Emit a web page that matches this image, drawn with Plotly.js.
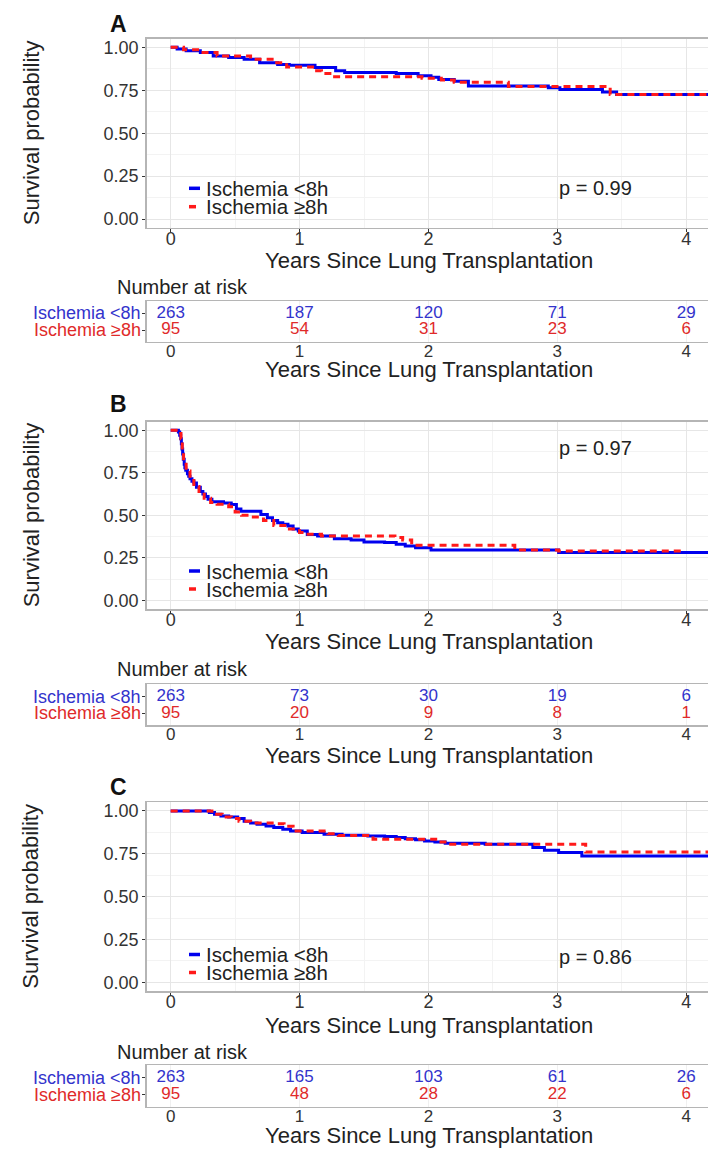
<!DOCTYPE html>
<html><head><meta charset="utf-8">
<script src="https://cdn.plot.ly/plotly-3.0.1.min.js"></script>
<style>html,body{margin:0;padding:0;background:#fff;overflow:hidden}#chart{width:708px;height:1151px}</style>
</head><body><div id="chart"></div>
<script>
// ---------------- DATA ----------------
const groups = ["Ischemia <8h", "Ischemia ≥8h"];
const panelLetters = ["A", "B", "C"];
const pValues = ["p = 0.99", "p = 0.97", "p = 0.86"];
const yTickVals = [0, 0.25, 0.5, 0.75, 1];
const yTickText = ["0.00", "0.25", "0.50", "0.75", "1.00"];
const xTickVals = [0, 1, 2, 3, 4];
const riskTimes = [0, 1, 2, 3, 4];

// Panel A
const timeA_lt = [0, 0.05, 0.12, 0.23, 0.33, 0.45, 0.57, 0.69, 0.83, 0.92, 1.12, 1.28, 1.35, 1.75, 1.92, 2.02, 2.08, 2.2, 2.31, 2.93, 3.02, 3.35, 3.46, 4.3];
const survA_lt = [1.0, 0.99, 0.98, 0.97, 0.95, 0.94, 0.93, 0.91, 0.90, 0.895, 0.882, 0.863, 0.853, 0.847, 0.835, 0.825, 0.812, 0.803, 0.774, 0.765, 0.755, 0.74, 0.725, 0.725];
const timeA_ge = [0, 0.1, 0.23, 0.36, 0.62, 0.8, 0.9, 1.12, 1.17, 1.25, 1.95, 2.1, 2.2, 2.62, 3.41, 4.3];
const survA_ge = [1.0, 0.985, 0.97, 0.95, 0.93, 0.91, 0.886, 0.863, 0.847, 0.828, 0.82, 0.81, 0.797, 0.772, 0.725, 0.725];
const riskA_lt = [263, 187, 120, 71, 29];
const riskA_ge = [95, 54, 31, 23, 6];

// Panel B
const timeB_lt = [0, 0.06, 0.07, 0.078, 0.083, 0.088, 0.093, 0.098, 0.105, 0.11, 0.117, 0.13, 0.14, 0.15, 0.165, 0.18, 0.2, 0.23, 0.25, 0.27, 0.29, 0.32, 0.41, 0.47, 0.51, 0.545, 0.70, 0.75, 0.79, 0.83, 0.87, 0.91, 0.95, 0.99, 1.06, 1.14, 1.27, 1.40, 1.50, 1.66, 1.75, 1.82, 1.90, 2.02, 3.01, 4.3];
const survB_lt = [1.0, 0.99, 0.97, 0.95, 0.92, 0.89, 0.86, 0.83, 0.80, 0.78, 0.765, 0.745, 0.73, 0.715, 0.70, 0.69, 0.665, 0.64, 0.625, 0.61, 0.595, 0.58, 0.573, 0.563, 0.538, 0.524, 0.505, 0.486, 0.47, 0.457, 0.447, 0.437, 0.42, 0.408, 0.388, 0.379, 0.363, 0.355, 0.343, 0.34, 0.33, 0.32, 0.31, 0.297, 0.282, 0.282];
const timeB_ge = [0, 0.06, 0.08, 0.09, 0.1, 0.12, 0.15, 0.18, 0.22, 0.26, 0.31, 0.36, 0.45, 0.5, 0.55, 0.62, 0.72, 0.8, 0.9, 1.0, 1.04, 1.17, 1.74, 1.80, 1.87, 2.67, 3.01, 3.97];
const survB_ge = [1.0, 0.98, 0.95, 0.88, 0.82, 0.76, 0.72, 0.67, 0.64, 0.60, 0.575, 0.565, 0.55, 0.52, 0.50, 0.49, 0.47, 0.44, 0.42, 0.40, 0.389, 0.379, 0.37, 0.355, 0.324, 0.297, 0.29, 0.29];
const riskB_lt = [263, 73, 30, 19, 6];
const riskB_ge = [95, 20, 9, 8, 1];

// Panel C
const timeC_lt = [0, 0.30, 0.34, 0.39, 0.45, 0.52, 0.57, 0.62, 0.67, 0.74, 0.80, 0.87, 0.93, 1.02, 1.19, 1.33, 1.53, 1.66, 1.75, 1.82, 1.9, 1.97, 2.05, 2.13, 2.44, 2.81, 2.90, 3.01, 3.19, 4.3];
const survC_lt = [1.0, 0.99, 0.98, 0.97, 0.965, 0.955, 0.94, 0.93, 0.922, 0.912, 0.903, 0.893, 0.883, 0.874, 0.864, 0.858, 0.854, 0.85, 0.845, 0.838, 0.832, 0.825, 0.818, 0.811, 0.805, 0.786, 0.77, 0.757, 0.737, 0.737];
const timeC_ge = [0, 0.32, 0.40, 0.47, 0.53, 0.62, 0.80, 0.88, 0.95, 1.22, 1.30, 1.57, 2.08, 2.15, 3.22, 4.3];
const survC_ge = [1.0, 0.98, 0.965, 0.955, 0.94, 0.93, 0.925, 0.91, 0.883, 0.866, 0.857, 0.834, 0.818, 0.805, 0.76, 0.76];
const riskC_lt = [263, 165, 103, 61, 26];
const riskC_ge = [95, 48, 28, 22, 6];

// ---------------- STYLE / GEOMETRY ----------------
const W = 708, H = 1151;
const FONT = "Liberation Sans, Arial, sans-serif";
const BLUE = "#0000ee", RED = "#ff1a1a";
const BLUE_TXT = "#3333cc", RED_TXT = "#e02a2a";
const plotLeft = 146.7;
const xRange = [-0.186, 4.169];
const geo = [
  {km: [38.7, 227.7], tab: [301, 341.7], letter: 24.5, kmTitle: 260, nar: 286.7, tabTitle: 369, leg: [188.3, 206.7], p: 188},
  {km: [421.7, 609], tab: [684, 725], letter: 404.5, kmTitle: 641.7, nar: 669, tabTitle: 755.5, leg: [571, 589], p: 448.3},
  {km: [802.3, 991], tab: [1065, 1106.7], letter: 787, kmTitle: 1025, nar: 1051.7, tabTitle: 1135.5, leg: [954.5, 972.5], p: 956.7}
];
const curves = [
  [[timeA_lt, survA_lt], [timeA_ge, survA_ge]],
  [[timeB_lt, survB_lt], [timeB_ge, survB_ge]],
  [[timeC_lt, survC_lt], [timeC_ge, survC_ge]]
];
const risks = [[riskA_lt, riskA_ge], [riskB_lt, riskB_ge], [riskC_lt, riskC_ge]];

const px = v => v / W;
const py = v => 1 - v / H;

const traces = [];
const layout = {
  width: W, height: H, margin: {l: 0, r: 0, t: 0, b: 0},
  paper_bgcolor: "#fff", plot_bgcolor: "#fff", showlegend: false,
  font: {family: FONT, color: "#222"},
  annotations: [], shapes: []
};

function sfx(n) { return n === 1 ? "" : String(n); }

geo.forEach((g, i) => {
  const kmN = 2 * i + 1, tabN = 2 * i + 2;
  const kmX = "x" + sfx(kmN), kmY = "y" + sfx(kmN);
  const tbX = "x" + sfx(tabN), tbY = "y" + sfx(tabN);

  layout["xaxis" + sfx(kmN)] = {
    domain: [px(plotLeft), 1], anchor: kmY, range: xRange,
    tickvals: xTickVals, ticks: "outside", ticklen: 3, tickcolor: "#333",
    tickfont: {size: 18, color: "#333"}, ticklabelstandoff: -9,
    showline: true, mirror: true, linecolor: "#b5b5b5", linewidth: 1.5,
    showgrid: true, gridcolor: "#e6e6e6", gridwidth: 1,
    minor: {dtick: 0.5, tick0: 0, showgrid: true, gridcolor: "#f3f3f3", gridwidth: 1},
    zeroline: false, fixedrange: true
  };
  layout["yaxis" + sfx(kmN)] = {
    domain: [py(g.km[1]), py(g.km[0])], anchor: kmX, range: [-0.05, 1.05],
    tickvals: yTickVals, ticktext: yTickText, ticks: "outside", ticklen: 3, tickcolor: "#333",
    tickfont: {size: 18, color: "#333"},
    showline: true, mirror: false, linecolor: "#b5b5b5", linewidth: 1.5,
    showgrid: true, gridcolor: "#e6e6e6", gridwidth: 1,
    minor: {dtick: 0.125, tick0: 0, showgrid: true, gridcolor: "#f3f3f3", gridwidth: 1},
    zeroline: false, fixedrange: true
  };
  layout["xaxis" + sfx(tabN)] = {
    domain: [px(plotLeft), 1], anchor: tbY, range: xRange,
    tickvals: xTickVals, ticks: "", tickfont: {size: 17, color: "#333"}, ticklabelstandoff: -7,
    showline: true, mirror: true, linecolor: "#b5b5b5", linewidth: 1.5,
    showgrid: true, gridcolor: "#f0f0f0", zeroline: false, fixedrange: true
  };
  layout["yaxis" + sfx(tabN)] = {
    domain: [py(g.tab[1]), py(g.tab[0])], anchor: tbX, range: [0.3, 2.75],
    tickvals: [1, 2], showticklabels: false, ticks: "outside", ticklen: 3, tickcolor: "#333",
    showline: true, linecolor: "#b5b5b5", linewidth: 1.5,
    showgrid: false, zeroline: false, fixedrange: true
  };

  const cols = [BLUE, RED];
  const dashes = ["solid", "7px,5px"];
  curves[i].forEach((c, k) => {
    traces.push({
      x: c[0], y: c[1], xaxis: kmX, yaxis: kmY, type: "scatter", mode: "lines",
      line: {shape: "hv", color: cols[k], width: 3, dash: dashes[k]},
      name: groups[k], hoverinfo: "skip", cliponaxis: true
    });
  });

  const txtCols = [BLUE_TXT, RED_TXT];
  risks[i].forEach((r, k) => {
    traces.push({
      x: riskTimes, y: riskTimes.map(() => 2 - k), xaxis: tbX, yaxis: tbY,
      type: "scatter", mode: "text", text: r.map(String),
      textfont: {size: 17, color: txtCols[k], family: FONT}, textposition: "middle center",
      hoverinfo: "skip", cliponaxis: false
    });
    layout.annotations.push({
      xref: "paper", yref: tbY, x: px(143), y: 2 - k, xanchor: "right", yanchor: "middle",
      text: groups[k], showarrow: false, font: {size: 18, color: txtCols[k]}
    });
  });

  layout.annotations.push({xref: "paper", yref: "paper", x: px(108), y: py(g.letter), xanchor: "left", yanchor: "middle",
    text: "<b>" + panelLetters[i] + "</b>", showarrow: false, font: {size: 23, color: "#111"}});
  layout.annotations.push({xref: "paper", yref: "paper", x: px(31), y: py((g.km[0] + g.km[1]) / 2), xanchor: "center", yanchor: "middle",
    text: "Survival probability", textangle: -90, showarrow: false, font: {size: 22, color: "#222"}});
  layout.annotations.push({xref: "paper", yref: "paper", x: px(428.6), y: py(g.kmTitle), xanchor: "center", yanchor: "middle",
    text: "Years Since Lung Transplantation", showarrow: false, font: {size: 22, color: "#222"}});
  layout.annotations.push({xref: "paper", yref: "paper", x: px(428.6), y: py(g.tabTitle), xanchor: "center", yanchor: "middle",
    text: "Years Since Lung Transplantation", showarrow: false, font: {size: 22, color: "#222"}});
  layout.annotations.push({xref: "paper", yref: "paper", x: px(115), y: py(g.nar), xanchor: "left", yanchor: "middle",
    text: "Number at risk", showarrow: false, font: {size: 20, color: "#222"}});
  layout.annotations.push({xref: "paper", yref: "paper", x: px(595), y: py(g.p), xanchor: "center", yanchor: "middle",
    text: pValues[i], showarrow: false, font: {size: 20, color: "#222"}});
  groups.forEach((gName, k) => {
    const yy = g.leg[k];
    layout.shapes.push({type: "line", xref: "paper", yref: "paper", x0: px(189), x1: px(k === 0 ? 200 : 196), y0: py(yy), y1: py(yy),
      line: {color: cols[k], width: 3.5}});
    layout.annotations.push({xref: "paper", yref: "paper", x: px(204), y: py(yy), xanchor: "left", yanchor: "middle",
      text: gName, showarrow: false, font: {size: 20.5, color: "#222"}});
  });
});

Plotly.newPlot("chart", traces, layout, {staticPlot: true, displayModeBar: false});
</script></body></html>
